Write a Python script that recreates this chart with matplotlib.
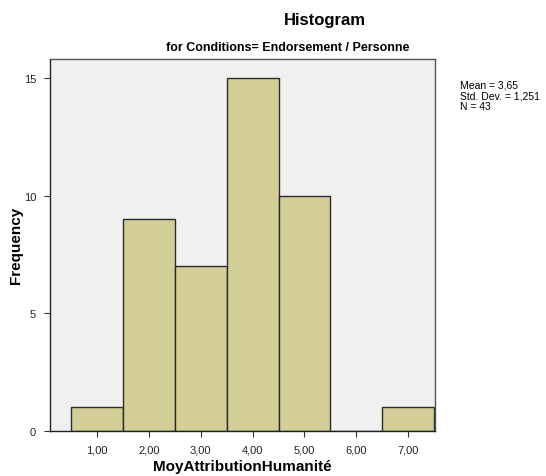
import matplotlib
matplotlib.use("Agg")
import matplotlib.pyplot as plt

bin_centers = [1, 2, 3, 4, 5, 6, 7]
counts = [1, 9, 7, 15, 10, 0, 1]
tick_labels = ["1,00", "2,00", "3,00", "4,00", "5,00", "6,00", "7,00"]
y_ticks = [0, 5, 10, 15]
stats_text = "Mean = 3,65\nStd. Dev. = 1,251\nN = 43"

fig = plt.figure(figsize=(5.46, 4.77), dpi=100)
ax = fig.add_axes([50/546, 45/477, 385/546, 372/477])
ax.set_facecolor("#F0F0F0")
ax.bar(bin_centers, counts, width=1.0, color="#D3CE98", edgecolor="#2b2b2b", linewidth=1.0)
ax.set_xlim(0.09, 7.52)
ax.set_ylim(0, 15.8)
ax.set_xticks(bin_centers)
ax.set_xticklabels(tick_labels, fontsize=8, family="Liberation Sans")
ax.set_yticks(y_ticks)
ax.set_yticklabels([str(t) for t in y_ticks], fontsize=8, family="Liberation Sans")
ax.tick_params(length=4, width=0.8, color="#333333", labelcolor="#222222", pad=6)
for s in ax.spines.values():
    s.set_color("#555555")
    s.set_linewidth(1.0)
ax.spines["left"].set_color("#222222")
ax.spines["bottom"].set_color("#222222")

fig.text(242/546, 1 - 467/477, "MoyAttributionHumanité", ha="center", va="center", fontsize=11, fontweight="bold", family="Liberation Sans")
fig.text(16/546, 1 - 245/477, "Frequency", ha="center", va="center", rotation=90, fontsize=11, fontweight="bold", family="Liberation Sans")

fig.text(325/546, 1 - 20/477, "Histogram", ha="center", va="center", fontsize=12, fontweight="bold", family="Liberation Sans")
fig.text(288/546, 1 - 48/477, "for Conditions= Endorsement / Personne", ha="center", va="center", fontsize=9, fontweight="bold", family="Liberation Sans")
fig.text(460/546, 1 - 80/477, stats_text, ha="left", va="top", fontsize=7.5, family="Liberation Sans", linespacing=1.15)

fig.savefig("out.png", dpi=100, facecolor="white")
